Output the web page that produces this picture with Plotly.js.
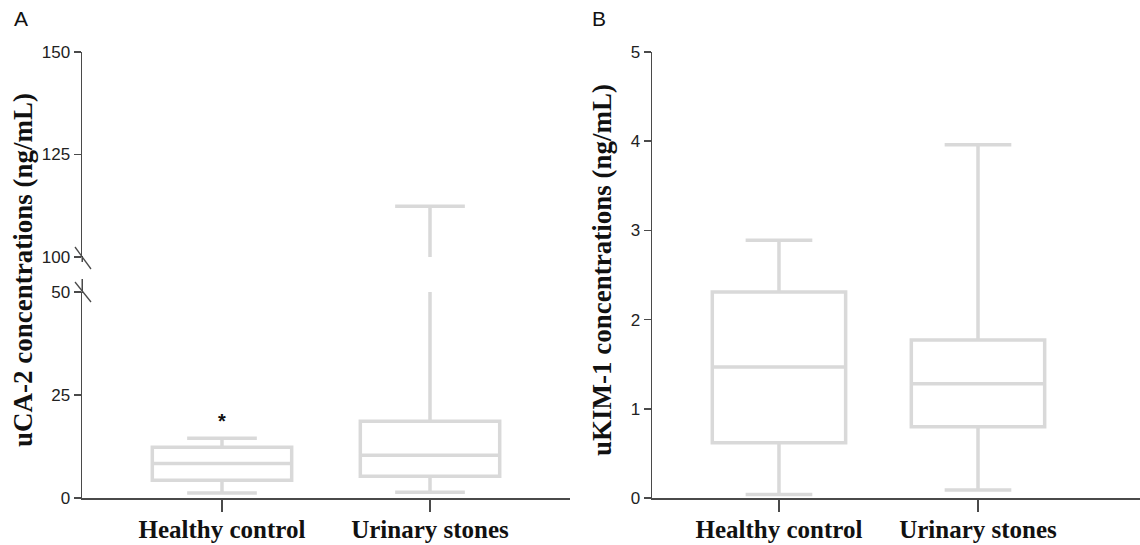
<!DOCTYPE html>
<html>
<head>
<meta charset="utf-8">
<script src="https://cdn.plot.ly/plotly-3.0.1.min.js"></script>
<style>html,body{margin:0;padding:0;background:#fff;}#chart{width:1140px;height:545px;}</style>
</head>
<body>
<div id="chart"></div>
<script>
// ---- data ----
var categories = ['Healthy control', 'Urinary stones'];
// Panel A: uCA-2 (ng/mL)
var ca2Lower  = [1.2, 1.4];
var ca2Q1     = [4.3, 5.3];
var ca2Median = [8.4, 10.4];
var ca2Q3     = [12.3, 18.6];
var ca2Upper  = [14.5, 112.4];
// Panel B: uKIM-1 (ng/mL)
var kimLower  = [0.04, 0.09];
var kimQ1     = [0.62, 0.80];
var kimMedian = [1.47, 1.28];
var kimQ3     = [2.31, 1.77];
var kimUpper  = [2.89, 3.96];
var ca2LowTicks = [0, 25, 50];
var ca2HighTicks = [100, 125, 150];
var kimTicks = [0, 1, 2, 3, 4, 5];
var asteriskGroup = 'Healthy control';
var asteriskValue = 18.8;

// ---- helpers ----
var W = 1140, H = 545;
function px(x) { return x / W; }
function py(y) { return 1 - y / H; }

var boxColor = '#d9d9d9';
var axisColor = '#4a4a4a';
var tickFont = {family: 'Liberation Sans, Arial, sans-serif', size: 17, color: '#222'};
var catFont = {family: 'Liberation Serif, Times New Roman, serif', size: 25, color: '#111', weight: 'bold'};

function boxTrace(q1, med, q3, lo, hi, xa, ya) {
  return {
    type: 'box', x: categories, q1: q1, median: med, q3: q3,
    lowerfence: lo, upperfence: hi, boxpoints: false,
    width: 0.67, whiskerwidth: 0.5,
    line: {color: boxColor, width: 3.5}, fillcolor: 'rgba(255,255,255,0)',
    xaxis: xa, yaxis: ya, showlegend: false, hoverinfo: 'skip'
  };
}

var data = [
  boxTrace(ca2Q1, ca2Median, ca2Q3, ca2Lower, ca2Upper, 'x', 'y'),
  boxTrace(ca2Q1, ca2Median, ca2Q3, ca2Lower, ca2Upper, 'x', 'y3'),
  boxTrace(kimQ1, kimMedian, kimQ3, kimLower, kimUpper, 'x2', 'y2')
];

var yBase = {
  showgrid: false, zeroline: false, showline: true, linecolor: axisColor, linewidth: 1.5,
  ticks: 'outside', ticklen: 7, tickwidth: 1.5, tickcolor: axisColor, tickfont: tickFont,
  fixedrange: true
};
var xBase = {
  type: 'category', categoryorder: 'array', categoryarray: categories,
  showgrid: false, zeroline: false, showline: true, linecolor: axisColor, linewidth: 1.5,
  ticks: 'outside', ticklen: 12, tickwidth: 1.5, tickcolor: axisColor, tickfont: catFont,
  ticklabelstandoff: -4, fixedrange: true
};

var axisLine = {color: axisColor, width: 1.5};

var layout = {
  width: W, height: H,
  margin: {l: 0, r: 0, t: 0, b: 0},
  paper_bgcolor: '#fff', plot_bgcolor: 'rgba(0,0,0,0)',
  showlegend: false,
  xaxis: Object.assign({}, xBase, {domain: [px(82), px(570)], anchor: 'y', range: [-0.673, 1.673]}),
  yaxis: Object.assign({}, yBase, {domain: [py(498), py(292)], anchor: 'x', range: [0, 50], tickvals: ca2LowTicks}),
  yaxis3: Object.assign({}, yBase, {domain: [py(257), py(52)], anchor: 'x', range: [100, 150], tickvals: ca2HighTicks}),
  xaxis2: Object.assign({}, xBase, {domain: [px(652), 1], anchor: 'y2', range: [-0.638, 1.814]}),
  yaxis2: Object.assign({}, yBase, {domain: [py(498), py(52)], anchor: 'x2', range: [0, 5], tickvals: kimTicks}),
  shapes: [
    // short axis-line stubs beside the break
    {type: 'line', xref: 'paper', yref: 'paper', x0: px(82.25), y0: py(256), x1: px(82.25), y1: py(262), line: axisLine},
    {type: 'line', xref: 'paper', yref: 'paper', x0: px(82.25), y0: py(279), x1: px(82.25), y1: py(293), line: axisLine},
    // break slashes
    {type: 'line', xref: 'paper', yref: 'paper', x0: px(75), y0: py(247), x1: px(91), y1: py(269), line: {color: axisColor, width: 1.3}},
    {type: 'line', xref: 'paper', yref: 'paper', x0: px(75), y0: py(282), x1: px(91), y1: py(302), line: {color: axisColor, width: 1.3}}
  ],
  annotations: [
    {text: 'A', xref: 'paper', yref: 'paper', x: px(12), y: py(5), xanchor: 'left', yanchor: 'top', showarrow: false,
     font: {family: 'Liberation Sans, Arial, sans-serif', size: 21, color: '#111'}},
    {text: 'B', xref: 'paper', yref: 'paper', x: px(590), y: py(5), xanchor: 'left', yanchor: 'top', showarrow: false,
     font: {family: 'Liberation Sans, Arial, sans-serif', size: 21, color: '#111'}},
    {text: 'uCA-2 concentrations (ng/mL)', xref: 'paper', yref: 'paper', x: px(23), y: py(270), textangle: -90,
     xanchor: 'center', yanchor: 'middle', showarrow: false,
     font: {family: 'Liberation Serif, Times New Roman, serif', size: 27, color: '#111', weight: 'bold'}},
    {text: 'uKIM-1 concentrations (ng/mL)', xref: 'paper', yref: 'paper', x: px(602), y: py(270), textangle: -90,
     xanchor: 'center', yanchor: 'middle', showarrow: false,
     font: {family: 'Liberation Serif, Times New Roman, serif', size: 27, color: '#111', weight: 'bold'}},
    {text: '*', xref: 'x', yref: 'y', x: asteriskGroup, y: asteriskValue, xanchor: 'center', yanchor: 'middle', showarrow: false,
     font: {family: 'Liberation Sans, Arial, sans-serif', size: 20, color: '#111', weight: 'bold'}}
  ]
};

Plotly.newPlot('chart', data, layout, {staticPlot: true, displayModeBar: false});
</script>
</body>
</html>
